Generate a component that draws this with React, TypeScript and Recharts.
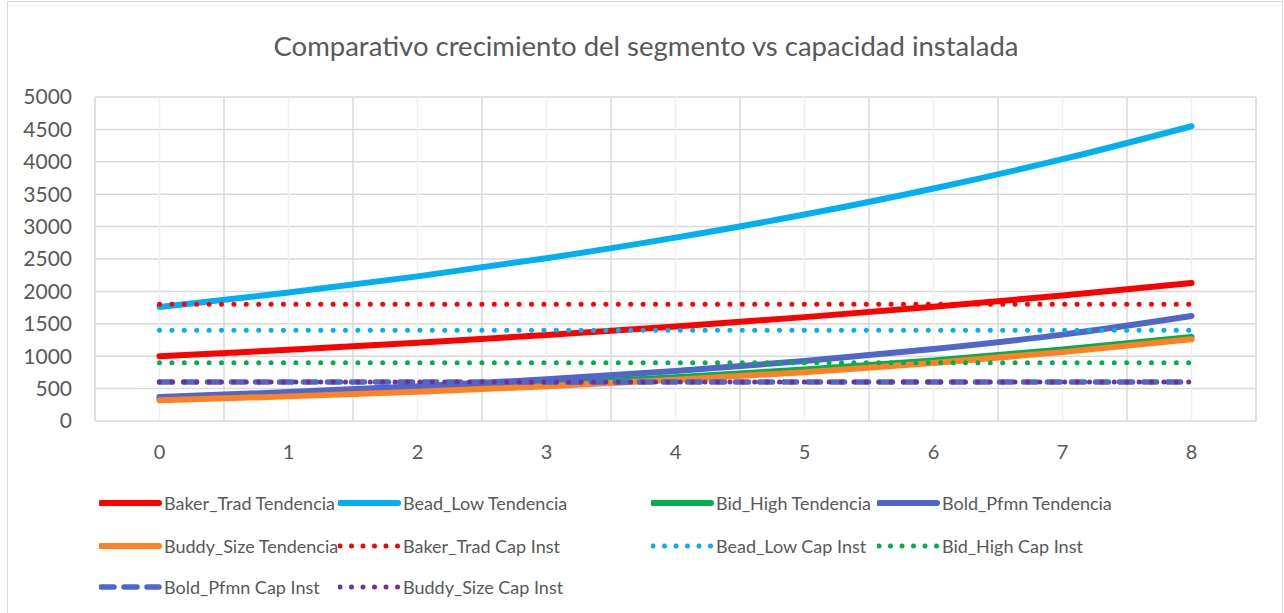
import React from "react";
import {
  LineChart, Line, XAxis, YAxis, CartesianGrid, ReferenceLine,
} from "recharts";

const periods = [0, 1, 2, 3, 4, 5, 6, 7, 8];
const yTicks = [0, 500, 1000, 1500, 2000, 2500, 3000, 3500, 4000, 4500, 5000];
const boundaries = [-0.5, 0.5, 1.5, 2.5, 3.5, 4.5, 5.5, 6.5, 7.5, 8.5];

const bakerTrend = [1000, 1099, 1208, 1327, 1459, 1603, 1762, 1936, 2128];
const beadTrend = [1760, 1982, 2232, 2513, 2830, 3186, 3588, 4040, 4549];
const bidTrend = [350, 412, 486, 572, 674, 794, 935, 1102, 1298];
const boldTrend = [372, 446, 536, 643, 771, 926, 1111, 1333, 1620];
const buddyTrend = [320, 380, 451, 535, 635, 754, 895, 1063, 1262];
const bakerCap = [1800, 1800, 1800, 1800, 1800, 1800, 1800, 1800, 1800];
const beadCap = [1400, 1400, 1400, 1400, 1400, 1400, 1400, 1400, 1400];
const bidCap = [900, 900, 900, 900, 900, 900, 900, 900, 900];
const boldCap = [600, 600, 600, 600, 600, 600, 600, 600, 600];
const buddyCap = [600, 600, 600, 600, 600, 600, 600, 600, 600];

const data = periods.map((p, i) => ({
  x: p,
  bakerTrend: bakerTrend[i],
  beadTrend: beadTrend[i],
  bidTrend: bidTrend[i],
  boldTrend: boldTrend[i],
  buddyTrend: buddyTrend[i],
  bakerCap: bakerCap[i],
  beadCap: beadCap[i],
  bidCap: bidCap[i],
  boldCap: boldCap[i],
  buddyCap: buddyCap[i],
}));

type Style = "solid" | "dot" | "dash";
const series: { key: string; name: string; color: string; style: Style }[] = [
  { key: "bakerTrend", name: "Baker_Trad Tendencia", color: "#ff0000", style: "solid" },
  { key: "beadTrend", name: "Bead_Low Tendencia", color: "#00b0f0", style: "solid" },
  { key: "bidTrend", name: "Bid_High Tendencia", color: "#00b050", style: "solid" },
  { key: "boldTrend", name: "Bold_Pfmn Tendencia", color: "#5066c8", style: "solid" },
  { key: "buddyTrend", name: "Buddy_Size Tendencia", color: "#ff8124", style: "solid" },
  { key: "bakerCap", name: "Baker_Trad Cap Inst", color: "#ff0000", style: "dot" },
  { key: "beadCap", name: "Bead_Low Cap Inst", color: "#00b0f0", style: "dot" },
  { key: "bidCap", name: "Bid_High Cap Inst", color: "#00b050", style: "dot" },
  { key: "boldCap", name: "Bold_Pfmn Cap Inst", color: "#5066c8", style: "dash" },
  { key: "buddyCap", name: "Buddy_Size Cap Inst", color: "#7030a0", style: "dot" },
];

const FONT = "Lato, 'Liberation Sans', sans-serif";
const TEXT = "#595959";

function strokeProps(style: Style) {
  if (style === "dot") return { strokeWidth: 5, strokeDasharray: "0 12.4", strokeLinecap: "round" as const };
  if (style === "dash") return { strokeWidth: 5.5, strokeDasharray: "13 11", strokeLinecap: "round" as const };
  return { strokeWidth: 6, strokeLinecap: "round" as const };
}

const legendCols = [99, 338, 651, 877];
const legendRows = [503, 546, 587];

function LegendBlock() {
  return (
    <>
      {series.map((s, i) => {
        const left = legendCols[i % 4];
        const top = legendRows[Math.floor(i / 4)];
        return (
          <div
            key={s.key}
            style={{ position: "absolute", left, top: top - 12, height: 24, display: "flex", alignItems: "center" }}
          >
            <svg width={64} height={24}>
              <line x1={2} x2={s.style === "dot" ? 62 : 60} y1={12} y2={12} stroke={s.color} {...strokeProps(s.style)}
                strokeDasharray={s.style === "dot" ? "0 11.5" : s.style === "dash" ? "13 10" : undefined} />
            </svg>
            <span style={{ marginLeft: 1, fontFamily: FONT, fontSize: 18, color: TEXT, whiteSpace: "nowrap" }}>{s.name}</span>
          </div>
        );
      })}
    </>
  );
}

export default function App() {
  return (
    <div style={{ position: "fixed", left: 0, top: 0, width: 1284, height: 613, background: "#fff" }}>
      <div style={{ position: "absolute", left: 7, top: 1, width: 1274, height: 618, border: "1px solid #d9d9d9" }} />
      <div style={{ position: "absolute", left: 0, top: 29, width: 1292, textAlign: "center", fontFamily: FONT, fontSize: 27.5, color: TEXT }}>
        Comparativo crecimiento del segmento vs capacidad instalada
      </div>
      <div style={{ position: "absolute", left: 0, top: 0 }}>
        <LineChart width={1284} height={613} data={data} margin={{ top: 97, right: 28, bottom: 162, left: 35 }}>
          <CartesianGrid horizontal={true} vertical={false} stroke="#d9d9d9" strokeWidth={1.5} />
          <CartesianGrid horizontal={false} vertical={true} stroke="#efefef" strokeWidth={1.5} />
          {boundaries.map((b) => (
            <ReferenceLine key={b} x={b} stroke="#d9d9d9" strokeWidth={1.5} />
          ))}
          <XAxis
            dataKey="x"
            type="number"
            domain={[-0.5, 8.5]}
            ticks={periods}
            allowDataOverflow
            axisLine={false}
            tickLine={false}
            tickSize={0}
            tickMargin={24}
            tick={{ fontSize: 20, fill: TEXT, fontFamily: FONT }}
          />
          <YAxis
            domain={[0, 5000]}
            ticks={yTicks}
            width={60}
            axisLine={false}
            tickLine={false}
            tickSize={0}
            tickMargin={23}
            tick={{ fontSize: 21, fill: TEXT, fontFamily: FONT }}
          />
          {series.map((s) => (
            <Line
              key={s.key}
              type="monotone"
              dataKey={s.key}
              name={s.name}
              stroke={s.color}
              dot={false}
              activeDot={false}
              isAnimationActive={false}
              {...strokeProps(s.style)}
            />
          ))}
        </LineChart>
      </div>
      <LegendBlock />
    </div>
  );
}
